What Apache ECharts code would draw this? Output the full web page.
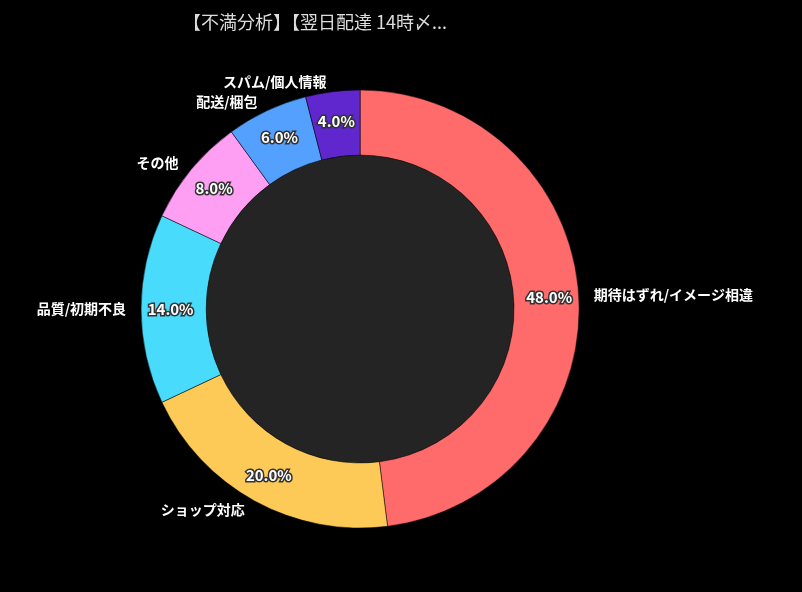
<!DOCTYPE html>
<html><head><meta charset="utf-8">
<script src="https://cdn.jsdelivr.net/npm/echarts@6/dist/echarts.min.js"></script>
<style>html,body{margin:0;background:#000}#c{width:802px;height:592px}</style>
</head><body><div id="c"></div>
<script>
const categories = ['期待はずれ/イメージ相違','ショップ対応','品質/初期不良','その他','配送/梱包','スパム/個人情報'];
const values = [48,20,14,8,6,4];
const colors = ['#ff6b6b','#feca57','#48dbfb','#ff9ff3','#54a0ff','#5f27cd'];
const titleText = '【不満分析】【翌日配達 14時〆...';
const data = categories.map((n,i)=>({name:n,value:values[i],itemStyle:{color:colors[i]}}));
const font = '"Noto Sans CJK JP", sans-serif';
const chart = echarts.init(document.getElementById('c'));
chart.setOption({
  backgroundColor:'#000',
  title:{text:titleText,left:178,top:8,textStyle:{color:'#ddd',fontSize:18,fontWeight:'normal',fontFamily:font}},
  series:[
    {type:'pie',center:['44.9%','52.2%'],radius:['0%','52%'],silent:true,label:{show:false},
     data:[{value:1,itemStyle:{color:'#242424'}}],z:1},
    {type:'pie',center:['44.9%','52.2%'],radius:['52%','74%'],startAngle:90,clockwise:true,
     itemStyle:{borderColor:'#000',borderWidth:0.5},
     label:{show:true,position:'outside',formatter:'{b}',color:'#fff',fontSize:14,fontWeight:'bold',fontFamily:font},
     labelLine:{show:false,length:10,length2:0},data},
    {type:'pie',center:['44.9%','52.2%'],radius:['52%','74%'],startAngle:90,clockwise:true,silent:true,
     itemStyle:{color:'transparent'},
     label:{show:true,position:'inside',formatter:p=>p.value.toFixed(1)+'%',color:'#fff',fontSize:15,fontWeight:'bold',
       fontFamily:font,textBorderColor:'#333',textBorderWidth:3},
     labelLine:{show:false},data:categories.map((n,i)=>({name:n,value:values[i]}))}
  ]
});
</script></body></html>
